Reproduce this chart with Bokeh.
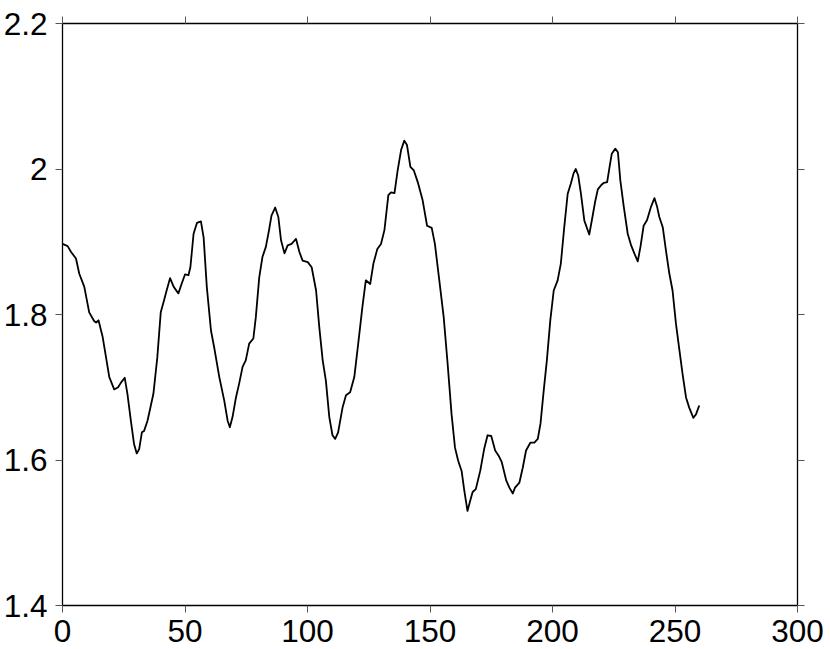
from bokeh.plotting import figure
from bokeh.models import Range1d, LinearAxis, FixedTicker
from bokeh.embed import file_html
from bokeh.resources import INLINE

# ---- data ----
xs = [0, 2.1, 3.5, 5.5, 6.85, 8.9, 10.9, 12.9, 13.7, 14.7, 16.4, 19.1, 21.1, 22.7, 23.8,
      25.4, 26.5, 27.9, 29.2, 30.3, 31.3, 32.4, 33.3, 34.7, 37.1, 38.7, 40.1, 41.4, 42.5,
      43.9, 45.4, 47.3, 48.6, 50.0, 51.4, 52.2, 53.5, 54.9, 56.5, 57.6, 58.9, 60.6, 61.9,
      64.0, 66.0, 67.4, 68.3, 69.4, 70.8, 72.1, 73.5, 74.8, 76.2, 77.9, 78.9, 80.3, 81.6,
      83.0, 84.3, 85.3, 86.8, 88.1, 89.2, 90.6, 91.9, 93.5, 95.3, 96.7, 98.0, 100.1, 101.7,
      103.5, 104.8, 106.2, 107.5, 108.9, 110.2, 111.3, 112.5, 114.3, 115.7, 117.4, 119.1,
      120.7, 122.4, 123.8, 125.6, 126.9, 128.5, 130.0, 131.4, 133.0, 134.1, 135.5, 136.8,
      138.2, 139.5, 140.6, 142.0, 143.4, 145.0, 147.0, 148.8, 150.7, 152.0, 153.8, 155.6,
      157.2, 158.8, 160.2, 161.5, 162.9, 164.0, 165.3, 166.4, 167.4, 168.7, 170.5, 172.1,
      173.5, 175.0, 176.6, 178.0, 179.3, 181.1, 182.4, 183.8, 184.7, 186.5, 187.9, 189.2,
      191.0, 192.6, 194.0, 195.1, 196.4, 197.7, 199.1, 200.5, 202.1, 203.4, 204.8, 206.2,
      207.5, 208.6, 209.5, 210.5, 211.6, 213.0, 215.0, 216.3, 217.4, 218.5, 219.9, 221.0,
      222.3, 223.3, 224.2, 225.6, 226.7, 227.7, 229.1, 230.7, 232.1, 233.4, 234.8, 235.9,
      237.2, 238.6, 240.2, 241.6, 242.7, 243.6, 245.0, 246.3, 247.7, 249.0, 250.4, 251.8,
      253.1, 254.5, 255.8, 257.5, 258.6, 259.9]
ys = [1.897, 1.894, 1.886, 1.877, 1.856, 1.838, 1.803, 1.791, 1.789, 1.792, 1.769, 1.714,
      1.697, 1.700, 1.706, 1.713, 1.691, 1.654, 1.622, 1.609, 1.615, 1.638, 1.640, 1.654,
      1.691, 1.741, 1.803, 1.819, 1.833, 1.850, 1.838, 1.829, 1.842, 1.855, 1.854, 1.865,
      1.911, 1.926, 1.928, 1.906, 1.838, 1.778, 1.755, 1.714, 1.682, 1.654, 1.645, 1.659,
      1.686, 1.705, 1.728, 1.737, 1.760, 1.767, 1.796, 1.851, 1.879, 1.893, 1.916, 1.936,
      1.947, 1.934, 1.902, 1.884, 1.895, 1.897, 1.904, 1.886, 1.874, 1.872, 1.865, 1.833,
      1.783, 1.737, 1.709, 1.659, 1.634, 1.629, 1.638, 1.672, 1.689, 1.693, 1.714, 1.760,
      1.810, 1.847, 1.842, 1.870, 1.890, 1.897, 1.916, 1.964, 1.968, 1.967, 1.998, 2.026,
      2.039, 2.033, 2.003, 1.998, 1.982, 1.957, 1.922, 1.919, 1.897, 1.847, 1.796, 1.732,
      1.663, 1.617, 1.599, 1.585, 1.558, 1.530, 1.544, 1.556, 1.560, 1.585, 1.615, 1.634,
      1.633, 1.613, 1.606, 1.597, 1.572, 1.562, 1.554, 1.562, 1.569, 1.590, 1.613, 1.624,
      1.624, 1.629, 1.650, 1.695, 1.737, 1.792, 1.833, 1.847, 1.870, 1.920, 1.966, 1.980,
      1.994, 2.000, 1.991, 1.966, 1.929, 1.910, 1.934, 1.955, 1.972, 1.978, 1.981, 1.982,
      2.003, 2.021, 2.028, 2.023, 1.984, 1.948, 1.911, 1.895, 1.884, 1.873, 1.893, 1.922,
      1.930, 1.948, 1.960, 1.948, 1.934, 1.920, 1.888, 1.856, 1.833, 1.787, 1.751, 1.718,
      1.686, 1.672, 1.658, 1.663, 1.675]

x_ticks = [0, 50, 100, 150, 200, 250, 300]
x_tick_labels = ["0", "50", "100", "150", "200", "250", "300"]
y_ticks = [1.4, 1.6, 1.8, 2.0, 2.2]
y_tick_labels = ["1.4", "1.6", "1.8", "2", "2.2"]

FONT = "Liberation Sans"
FSIZE = "31.5px"

p = figure(width=830, height=649, x_range=Range1d(0, 300), y_range=Range1d(1.4, 2.2),
           output_backend="svg", toolbar_location=None,
           min_border_left=60, min_border_right=33, min_border_top=23, min_border_bottom=44)
p.grid.visible = False
p.outline_line_color = None
p.background_fill_color = "white"
p.border_fill_color = "white"


def style_axis(ax, ticks, labels=None, standoff=0):
    ax.ticker = FixedTicker(ticks=ticks)
    ax.axis_line_color = "black"
    ax.axis_line_width = 1.3
    ax.major_tick_line_color = "#555555"
    ax.major_tick_line_width = 1
    ax.major_tick_out = 7
    ax.major_tick_in = 0
    ax.minor_tick_out = 0
    ax.minor_tick_in = 0
    if labels is not None:
        ax.major_label_text_font = FONT
        ax.major_label_text_font_size = FSIZE
        ax.major_label_text_color = "black"
        ax.major_label_standoff = standoff
        ax.major_label_overrides = {t: s for t, s in zip(ticks, labels)}
    else:
        ax.major_label_text_alpha = 0
        ax.major_label_text_color = None
        ax.major_label_standoff = 0


style_axis(p.xaxis[0], x_ticks, x_tick_labels, standoff=7)
style_axis(p.yaxis[0], y_ticks, y_tick_labels, standoff=8)

top = LinearAxis()
style_axis(top, x_ticks)
p.add_layout(top, "above")
right = LinearAxis()
style_axis(right, y_ticks)
p.add_layout(right, "right")

p.line(xs, ys, line_color="black", line_width=1.8, line_join="round")

open("out.html", "w").write(file_html(p, INLINE))
